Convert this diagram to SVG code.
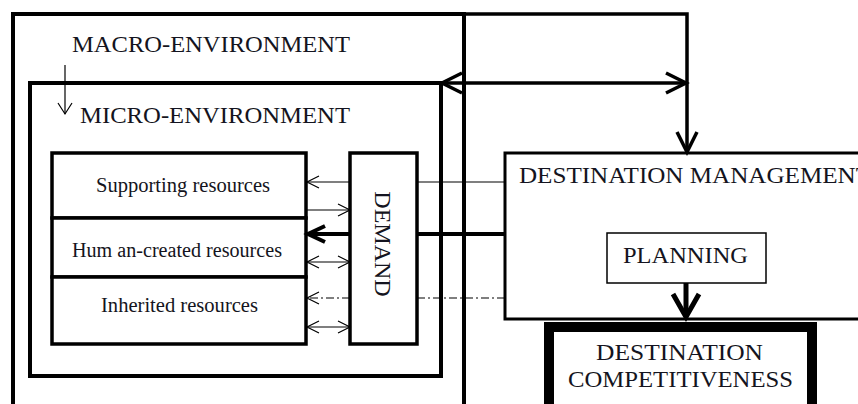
<svg xmlns="http://www.w3.org/2000/svg" width="858" height="404" viewBox="0 0 858 404">
<style>
text{font-family:"Liberation Serif","Times New Roman",serif;fill:#141420}
.cap{font-size:24px}
.res{font-size:20px}
.box{fill:#fff;stroke:#000;stroke-width:3.5}
.frame{fill:none;stroke:#000;stroke-width:4}
.thin{fill:none;stroke:#000;stroke-width:1.2}
.thick{fill:none;stroke:#000;stroke-width:3.5}
</style>
<defs>
<marker id="big" markerUnits="userSpaceOnUse" markerWidth="30" markerHeight="30" refX="20" refY="10" orient="auto-start-reverse" overflow="visible">
<path d="M0,0 L20,10 L0,20" fill="none" stroke="#000" stroke-width="3.5"/>
</marker>
<marker id="small" markerUnits="userSpaceOnUse" markerWidth="20" markerHeight="20" refX="12" refY="6" orient="auto-start-reverse" overflow="visible">
<path d="M0,0 L12,6 L0,12" fill="none" stroke="#000" stroke-width="1.2"/>
</marker>
<marker id="mid" markerUnits="userSpaceOnUse" markerWidth="24" markerHeight="24" refX="17" refY="8" orient="auto-start-reverse" overflow="visible">
<path d="M0,0 L17,8 L0,16" fill="none" stroke="#000" stroke-width="4"/>
</marker>
<marker id="plan" markerUnits="userSpaceOnUse" markerWidth="30" markerHeight="30" refX="23" refY="13" orient="auto" overflow="visible">
<path d="M0,0 L23,13 L0,26" fill="none" stroke="#000" stroke-width="5"/>
</marker>
</defs>

<g id="macro-environment">
<path class="frame" d="M13,420 V14 H464 V420"/>
<text class="cap" x="72" y="52" textLength="278" lengthAdjust="spacingAndGlyphs">MACRO-ENVIRONMENT</text>
</g>

<g id="micro-environment">
<rect class="frame" x="30" y="83" width="411" height="293"/>
<text class="cap" x="80" y="123" textLength="270" lengthAdjust="spacingAndGlyphs">MICRO-ENVIRONMENT</text>
</g>

<g id="supporting-resources">
<rect class="box" x="52" y="153" width="254" height="65"/>
<text class="res" x="96" y="192" textLength="174" lengthAdjust="spacingAndGlyphs">Supporting resources</text>
</g>
<g id="human-created-resources">
<rect class="box" x="52" y="218" width="254" height="59"/>
<text class="res" x="72" y="257" textLength="210" lengthAdjust="spacingAndGlyphs">Hum an-created resources</text>
</g>
<g id="inherited-resources">
<rect class="box" x="52" y="277" width="254" height="67"/>
<text class="res" x="101" y="312" textLength="157" lengthAdjust="spacingAndGlyphs">Inherited resources</text>
</g>

<g id="demand">
<rect class="box" x="350" y="153" width="67" height="191"/>
<text class="cap" x="0" y="0" text-anchor="middle" transform="translate(375,244) rotate(90)">DEMAND</text>
</g>

<g id="destination-management">
<path d="M910,153 H505 V319 H910" fill="#fff" stroke="#000" stroke-width="3"/>
<text class="cap" x="519" y="183" textLength="352" lengthAdjust="spacingAndGlyphs">DESTINATION MANAGEMENT</text>
</g>

<g id="planning">
<rect x="607" y="233" width="159" height="50" fill="#fff" stroke="#000" stroke-width="1.5"/>
<text class="cap" x="623" y="263" textLength="125" lengthAdjust="spacingAndGlyphs">PLANNING</text>
</g>

<g id="destination-competitiveness">
<rect x="549" y="327" width="263" height="100" fill="#fff" stroke="#000" stroke-width="10"/>
<text class="cap" x="596" y="360" textLength="167" lengthAdjust="spacingAndGlyphs">DESTINATION</text>
<text class="cap" x="568" y="387" textLength="225" lengthAdjust="spacingAndGlyphs">COMPETITIVENESS</text>
</g>

<g id="connectors">
<path class="thick" d="M464,14 H687 V152" marker-end="url(#big)"/>
<path class="thick" d="M442,83 H686" marker-start="url(#big)" marker-end="url(#big)"/>
<path d="M65,65 V114" fill="none" stroke="#000" stroke-width="1.2"/>
<path d="M58,103 L65,114 L72,103" fill="none" stroke="#000" stroke-width="1.2"/>
<path class="thin" d="M417,182 H505"/>
<path class="thin" d="M350,182 H307" marker-end="url(#small)"/>
<path class="thin" d="M307,210 H350" marker-end="url(#small)"/>
<path d="M417,234 H505" stroke="#000" stroke-width="4"/>
<path d="M350,234 H308" stroke="#000" stroke-width="4" marker-end="url(#mid)"/>
<path class="thin" d="M307,262 H350" marker-start="url(#small)" marker-end="url(#small)"/>
<path class="thin" d="M417,298 H505" stroke-dasharray="8,3,2,3"/>
<path class="thin" d="M350,298 H307" stroke-dasharray="8,3,2,3" marker-end="url(#small)"/>
<path class="thin" d="M307,327 H350" marker-start="url(#small)" marker-end="url(#small)"/>
<path d="M686,283 V317" stroke="#000" stroke-width="5" marker-end="url(#plan)"/>
</g>
</svg>
